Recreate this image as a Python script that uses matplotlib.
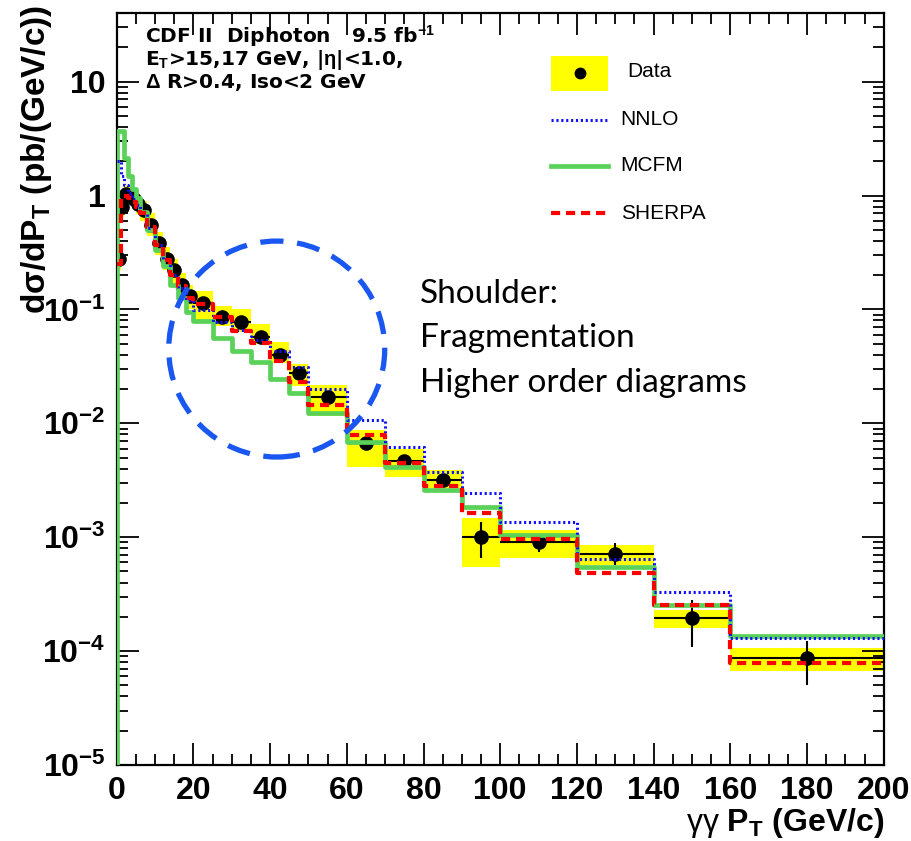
import numpy as np
import matplotlib
matplotlib.use("Agg")
import matplotlib.pyplot as plt
from matplotlib.patches import Ellipse, Rectangle
from matplotlib.lines import Line2D
from matplotlib.ticker import LogLocator, MultipleLocator, NullFormatter

plt.rcParams['font.family'] = ['Liberation Sans', 'DejaVu Sans']
plt.rcParams['mathtext.fontset'] = 'custom'
plt.rcParams['mathtext.rm'] = 'Liberation Sans'
plt.rcParams['mathtext.it'] = 'Liberation Sans:italic'
plt.rcParams['mathtext.bf'] = 'Liberation Sans:bold'

# diphoton pT bins (GeV/c)
edges = [0, 1, 2, 3, 4, 5, 6, 8, 10, 12, 14, 16, 18, 20, 25, 30, 35, 40, 45,
         50, 60, 70, 80, 90, 100, 120, 140, 160, 200]

# measured cross section, pb/(GeV/c)
data = [0.28, 0.80, 1.04, 1.0, 0.93, 0.85, 0.74, 0.557, 0.38, 0.28, 0.22,
        0.165, 0.13, 0.113, 0.085, 0.077, 0.057, 0.040, 0.0275, 0.0170,
        0.0067, 0.0047, 0.0032, 0.00100, 0.00091, 0.00071, 0.000195, 0.000087]
stat_lo = [0.01, 0.02, 0.02, 0.02, 0.02, 0.02, 0.015, 0.01, 0.008, 0.006, 0.005,
           0.004, 0.003, 0.003, 0.002, 0.002, 0.0015, 0.001, 0.0008, 0.0006,
           0.0004, 0.0003, 0.0002, 0.000345, 0.00017, 0.000142, 0.000087, 0.0000366]
stat_hi = [0.01, 0.02, 0.02, 0.02, 0.02, 0.02, 0.015, 0.01, 0.008, 0.006, 0.005,
           0.004, 0.003, 0.003, 0.002, 0.002, 0.0015, 0.001, 0.0008, 0.0006,
           0.0004, 0.0003, 0.0002, 0.00036, 0.00009, 0.00018, 0.000085, 0.000035]
# total systematic band
syst_lo = [0.22, 0.65, 0.85, 0.82, 0.76, 0.69, 0.60, 0.44, 0.30, 0.22, 0.17,
           0.13, 0.10, 0.080, 0.072, 0.064, 0.050, 0.034, 0.0211, 0.0117,
           0.0041, 0.0034, 0.0027, 0.00055, 0.00066, 0.00057, 0.000159, 0.0000668]
syst_hi = [0.34, 0.97, 1.25, 1.20, 1.12, 1.03, 0.90, 0.70, 0.48, 0.35, 0.28,
           0.21, 0.165, 0.145, 0.108, 0.100, 0.075, 0.052, 0.0334, 0.0215,
           0.0088, 0.0060, 0.0039, 0.00147, 0.00115, 0.00085, 0.000229, 0.000106]

# theory predictions per bin
nnlo = [2.0, 1.5, 1.25, 1.05, 0.93, 0.83, 0.70, 0.52, 0.37, 0.27, 0.20,
        0.155, 0.12, 0.098, 0.078, 0.066, 0.054, 0.043, 0.031, 0.0199,
        0.0106, 0.00615, 0.00372, 0.00243, 0.00136, 0.00064, 0.00033, 0.00013]
mcfm = [3.7, 3.7, 2.15, 1.5, 1.15, 0.95, 0.72, 0.50, 0.33, 0.24, 0.165,
        0.125, 0.095, 0.0785, 0.0557, 0.0428, 0.0343, 0.0243, 0.0183, 0.01225,
        0.00681, 0.00411, 0.00258, 0.00183, 0.00104, 0.000546, 0.000254, 0.000136]
sherpa = [0.25, 0.95, 1.0, 0.95, 0.88, 0.80, 0.70, 0.53, 0.37, 0.27, 0.20,
          0.16, 0.125, 0.112, 0.085, 0.0642, 0.0504, 0.035, 0.0229, 0.0144,
          0.00785, 0.00446, 0.0028, 0.00163, 0.00096, 0.000483, 0.000254, 0.0000785]

edges = np.array(edges, dtype=float)
centers = 0.5 * (edges[:-1] + edges[1:])
widths = np.diff(edges)
ymin, ymax = 1e-5, 40


def hist_line(vals, rise=True):
    # ROOT-like outline: optional rise from the axis at the first edge, no drop at the end
    xs = np.repeat(edges, 2)[1:-1]
    ys = np.repeat(vals, 2)
    if rise:
        xs = np.concatenate([[edges[0]], xs])
        ys = np.concatenate([[ymin * 0.5], ys])
    return xs, ys


fig = plt.figure(figsize=(9.12, 8.41), dpi=100)
ax = fig.add_axes([0.128, 0.0904, 0.841, 0.894])

# systematic band
ax.bar(edges[:-1], np.array(syst_hi) - np.array(syst_lo), bottom=syst_lo,
       width=widths, align='edge', color='#ffff00', lw=0, zorder=1)

ax.errorbar(centers, data, xerr=widths / 2, yerr=[stat_lo, stat_hi], fmt='o',
            color='black', ms=9.5, elinewidth=1.5, capsize=0, zorder=3)

x, y = hist_line(mcfm)
ax.plot(x, y, color='#5ad25a', lw=3.4, zorder=4)
x, y = hist_line(nnlo, rise=False)
ax.plot(x, y, color='#1010ff', lw=2.2, ls=(0, (0.7, 0.9)), zorder=5)
x, y = hist_line(sherpa, rise=False)
ax.plot(x, y, color='#ff0000', lw=3.0, ls=(0, (2.2, 1.4)), zorder=6)

ax.set_yscale('log')
ax.set_xlim(0, 200)
ax.set_ylim(ymin, ymax)

ax.xaxis.set_major_locator(MultipleLocator(20))
ax.xaxis.set_minor_locator(MultipleLocator(5))
ax.set_yticks([1e-5, 1e-4, 1e-3, 1e-2, 1e-1, 1, 10])
ax.set_yticklabels([r'10$^{\mathbf{-5}}$', r'10$^{\mathbf{-4}}$', r'10$^{\mathbf{-3}}$',
                    r'10$^{\mathbf{-2}}$', r'10$^{\mathbf{-1}}$', '1', '10'])
ax.yaxis.set_minor_locator(LogLocator(base=10, subs=np.arange(2, 10)))
ax.yaxis.set_minor_formatter(NullFormatter())

ax.tick_params(which='both', direction='in', top=True, right=True, width=1.3)
ax.tick_params(which='major', length=16, pad=8, labelsize=23)
ax.tick_params(which='minor', length=8)
for lab in ax.get_xticklabels() + ax.get_yticklabels():
    lab.set_fontweight('bold')
for sp in ax.spines.values():
    sp.set_linewidth(1.6)

ax.set_ylabel(r'd$\mathbf{\sigma}$/dP$_\mathbf{T}$ (pb/(GeV/c))', loc='top',
              fontsize=24, fontweight='bold')
ax.yaxis.set_label_coords(-0.082, 1.011)
ax.set_xlabel(r'$\mathrm{\gamma\gamma}$ P$_\mathbf{T}$ (GeV/c)', loc='right',
              fontsize=23, fontweight='bold')
ax.xaxis.set_label_coords(1.001, -0.054)

# header
hdr = dict(transform=ax.transAxes, fontsize=14.5, fontweight='bold', va='baseline',
           family='DejaVu Sans')
ax.text(0.0365, 0.961, r'CDF II  Diphoton   9.5 fb$^{\mathbf{-1}}$', **hdr)
ax.text(0.0365, 0.931, r'E$_\mathbf{T}$>15,17 GeV, |$\mathbf{\eta}$|<1.0,', **hdr)
ax.text(0.0365, 0.900, r'$\mathbf{\Delta}$ R>0.4, Iso<2 GeV', **hdr)

# legend
ax.add_patch(Rectangle((0.566, 0.896), 0.075, 0.047, transform=ax.transAxes,
                       facecolor='#ffff00', edgecolor='none', zorder=7))
ax.plot([0.604], [0.920], 'o', color='black', ms=7.5, transform=ax.transAxes, zorder=8)
ax.text(0.666, 0.922, 'Data', transform=ax.transAxes, fontsize=15, va='center')
leg_rows = [(0.858, '#1010ff', 2.2, (0, (0.7, 0.9)), 'NNLO'),
            (0.797, '#5ad25a', 3.4, '-', 'MCFM'),
            (0.734, '#ff0000', 3.0, (0, (2.2, 1.4)), 'SHERPA')]
for yy, col, lw, ls, name in leg_rows:
    ax.add_line(Line2D([0.566, 0.640], [yy, yy], color=col, lw=lw, ls=ls,
                       transform=ax.transAxes, zorder=8))
    ax.text(0.657, yy, name, transform=ax.transAxes, fontsize=15, va='center')

# shoulder annotation
ax.add_patch(Ellipse((0.2086, 0.5532), 0.2816, 0.2872, transform=ax.transAxes,
                     fill=False, edgecolor='#1a56f0', lw=3.8, ls=(0, (4.4, 2.6)),
                     zorder=9))
for yy, line in zip([0.614, 0.556, 0.496],
                    ['Shoulder:', 'Fragmentation', 'Higher order diagrams']):
    ax.text(0.395, yy, line, transform=ax.transAxes, fontsize=24,
            family=['Lato', 'DejaVu Sans'], va='baseline')

fig.savefig('out.png', dpi=100)
